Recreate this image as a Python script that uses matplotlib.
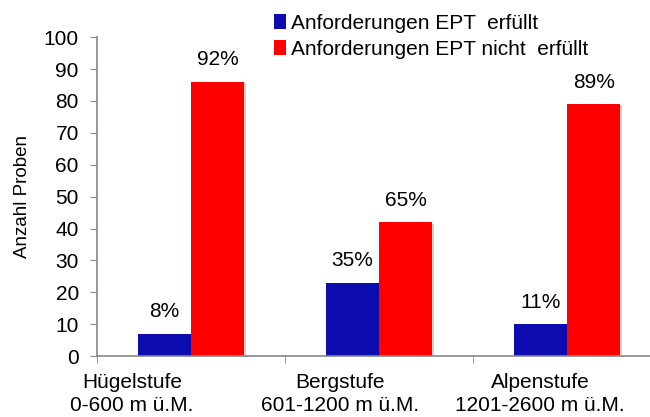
import numpy as np
import matplotlib.pyplot as plt
import matplotlib.patheffects as pe
from matplotlib.ticker import FixedLocator

plt.rcParams['font.family'] = ['Liberation Sans', 'DejaVu Sans']

# Daten
kategorien = ['Hügelstufe\n0-600 m ü.M.', 'Bergstufe\n601-1200 m ü.M.', 'Alpenstufe\n1201-2600 m ü.M.']
erfuellt = [7, 23, 10]
nicht_erfuellt = [86, 42, 79]
pct_erfuellt = ['8%', '35%', '11%']
pct_nicht = ['92%', '65%', '89%']
y_ticks = [0, 10, 20, 30, 40, 50, 60, 70, 80, 90, 100]

blau = '#0d0daf'
rot = '#ff0000'
achse = '#868686'
fs = 15

fig = plt.figure(figsize=(6.5, 4.17), dpi=100)
ax = fig.add_axes([0.149, 0.146, 0.868, 0.765])

x = np.arange(len(kategorien))
w = 0.283
b1 = ax.bar(x - w / 2, erfuellt, w, color=blau, label='Anforderungen EPT  erfüllt')
b2 = ax.bar(x + w / 2, nicht_erfuellt, w, color=rot, label='Anforderungen EPT nicht  erfüllt')

# Prozentwerte über den Balken
for rect, txt in zip(b1, pct_erfuellt):
    ax.annotate(txt, (rect.get_x() + rect.get_width() / 2, rect.get_height()),
                xytext=(0, 9), textcoords='offset points', ha='center', va='bottom', fontsize=fs)
for rect, txt in zip(b2, pct_nicht):
    ax.annotate(txt, (rect.get_x() + rect.get_width() / 2, rect.get_height()),
                xytext=(0, 9), textcoords='offset points', ha='center', va='bottom', fontsize=fs)

ax.set_xlim(-0.5, 2.5)
ax.set_ylim(0, 100)
ax.set_yticks(y_ticks)
# Beschriftungen stehen im Original etwas links von der Gruppenmitte
ax.set_xticks(x + np.array([-0.314, -0.207, -0.144]))
ax.set_xticklabels(kategorien, fontsize=fs, linespacing=1.3)
ax.xaxis.set_minor_locator(FixedLocator([-0.5, 0.5, 1.5, 2.5]))
ax.tick_params(axis='x', which='major', length=0, pad=12)
ax.tick_params(axis='x', which='minor', length=5, color=achse, direction='out')
ax.tick_params(axis='y', length=5, color=achse, labelsize=fs, pad=8)
ax.set_ylabel('Anzahl Proben', fontsize=13.5, labelpad=9)

for s in ['top', 'right']:
    ax.spines[s].set_visible(False)
for s in ['left', 'bottom']:
    ax.spines[s].set_color(achse)
    ax.spines[s].set_linewidth(1.2)

ax.legend(loc='upper left', bbox_to_anchor=(0.3, 1.10), frameon=False, fontsize=fs,
          handlelength=0.55, handleheight=0.7, handletextpad=0.25, labelspacing=0.35,
          borderaxespad=0)

# leichter Schatten wie im Original (erst nach der Legende)
schatten = [pe.SimplePatchShadow(offset=(1.5, -1), shadow_rgbFace='gray', alpha=0.35), pe.Normal()]
for r in list(b1) + list(b2):
    r.set_path_effects(schatten)

fig.savefig('out.png', dpi=100)
